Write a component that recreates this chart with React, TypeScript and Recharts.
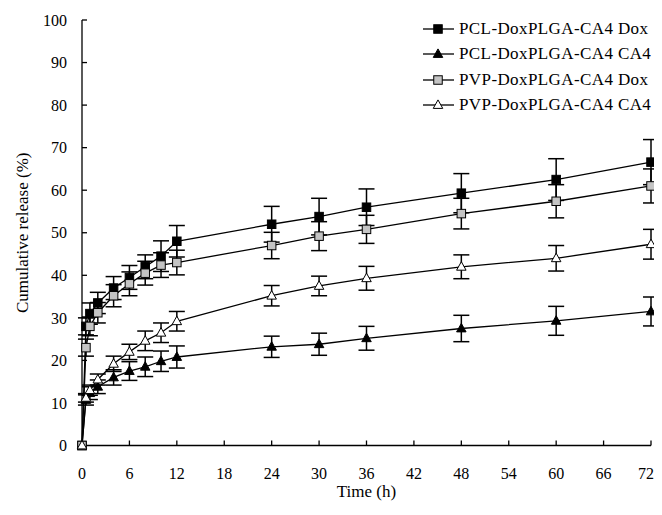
import React from 'react';
import { LineChart, Line, XAxis, YAxis, ErrorBar, Legend, Label } from 'recharts';

const times = [0, 0.5, 1, 2, 4, 6, 8, 10, 12, 24, 30, 36, 48, 60, 72];

const pclDox = [0, 28, 31, 33.5, 37, 39.5, 42, 44.5, 48, 52, 53.8, 56, 59.3, 62.5, 66.6];
const pclDoxErr = [0, 2, 2.5, 2.5, 2.7, 2.8, 2.8, 3.6, 3.7, 4.2, 4.3, 4.3, 4.6, 4.9, 5.3];

const pclCa4 = [0, 10.7, 12.3, 13.8, 16, 17.5, 18.5, 19.8, 20.8, 23.2, 23.8, 25.2, 27.5, 29.3, 31.5];
const pclCa4Err = [0, 1.2, 1.5, 1.6, 1.8, 2.2, 2.3, 2.4, 2.6, 2.5, 2.6, 2.8, 3.1, 3.4, 3.4];

const pvpDox = [0, 23, 28, 31.2, 35.2, 38, 40.5, 42.4, 43, 47, 49.2, 50.8, 54.5, 57.4, 61];
const pvpDoxErr = [0, 2, 2.2, 2.4, 2.6, 2.8, 2.8, 2.9, 2.9, 3.1, 3.4, 3.3, 3.6, 3.9, 4.0];

const pvpCa4 = [0, 11.2, 13, 15.5, 19.2, 22, 24.6, 26.5, 29.2, 35.2, 37.5, 39.3, 42, 44, 47.3];
const pvpCa4Err = [0, 1, 1.2, 1.3, 1.8, 1.8, 2.3, 2.3, 2.3, 2.4, 2.3, 2.8, 2.8, 3.0, 3.5];

const xTicks = [0, 6, 12, 18, 24, 30, 36, 42, 48, 54, 60, 66, 72];
const yTicks = [0, 10, 20, 30, 40, 50, 60, 70, 80, 90, 100];

const seriesNames = [
  'PCL-DoxPLGA-CA4 Dox',
  'PCL-DoxPLGA-CA4 CA4',
  'PVP-DoxPLGA-CA4 Dox',
  'PVP-DoxPLGA-CA4 CA4',
];

const data = times.map((t, i) => ({
  time: t,
  pclDox: pclDox[i],
  pclDoxErr: pclDoxErr[i],
  pclCa4: pclCa4[i],
  pclCa4Err: pclCa4Err[i],
  pvpDox: pvpDox[i],
  pvpDoxErr: pvpDoxErr[i],
  pvpCa4: pvpCa4[i],
  pvpCa4Err: pvpCa4Err[i],
}));

const FONT = '"Liberation Serif", "Times New Roman", serif';

type Shape = 'square' | 'triangle';

const Marker = ({ cx, cy, shape, fill }: { cx: number; cy: number; shape: Shape; fill: string }) => {
  if (cx == null || cy == null) return null;
  if (shape === 'square') {
    const s = 8.5;
    return <rect x={cx - s / 2} y={cy - s / 2} width={s} height={s} fill={fill} stroke="#000" strokeWidth={1} />;
  }
  const w = 9.5;
  const h = 8.5;
  const pts = `${cx},${cy - h * 0.6} ${cx - w / 2},${cy + h * 0.4} ${cx + w / 2},${cy + h * 0.4}`;
  return <polygon points={pts} fill={fill} stroke="#000" strokeWidth={1} />;
};

const makeDot = (shape: Shape, fill: string) => (props: any) => (
  <Marker key={`dot-${shape}-${fill}-${props.index}`} cx={props.cx} cy={props.cy} shape={shape} fill={fill} />
);

const legendItems: { name: string; shape: Shape; fill: string }[] = [
  { name: seriesNames[0], shape: 'square', fill: '#000' },
  { name: seriesNames[1], shape: 'triangle', fill: '#000' },
  { name: seriesNames[2], shape: 'square', fill: '#c4c4c4' },
  { name: seriesNames[3], shape: 'triangle', fill: '#fff' },
];

const renderLegend = () => (
  <div style={{ fontFamily: FONT, fontSize: 17, color: '#000' }}>
    {legendItems.map((it) => (
      <div key={it.name} style={{ display: 'flex', alignItems: 'center', height: 25.5, whiteSpace: 'nowrap' }}>
        <svg width={34} height={14} style={{ marginRight: 3 }}>
          <line x1={1} y1={7} x2={32} y2={7} stroke="#000" strokeWidth={1.3} />
          <Marker cx={16} cy={7} shape={it.shape} fill={it.fill} />
        </svg>
        <span style={{ letterSpacing: 0.4 }}>{it.name}</span>
      </div>
    ))}
  </div>
);

const tickStyle = { fontSize: 16, fill: '#000', fontFamily: FONT };

export default function App() {
  return (
    <LineChart
      width={646}
      height={499}
      data={data}
      margin={{ top: 12, right: 3, left: 0, bottom: 6.5 }}
      style={{ overflow: 'visible' }}
    >
      <XAxis
        dataKey="time"
        type="number"
        domain={[0, 72]}
        ticks={xTicks}
        height={55}
        tickSize={-5}
        tickMargin={27}
        tick={tickStyle}
        axisLine={{ stroke: '#000', strokeWidth: 1.3 }}
        tickLine={{ stroke: '#000', strokeWidth: 1.3 }}
      >
        <Label
          content={({ viewBox }: any) => (
            <text
              x={viewBox.x + viewBox.width / 2}
              y={viewBox.y + viewBox.height - 4}
              textAnchor="middle"
              fontFamily={FONT}
              fontSize={17}
              fill="#000"
            >
              Time (h)
            </text>
          )}
        />
      </XAxis>
      <YAxis
        type="number"
        domain={[0, 100]}
        ticks={yTicks}
        width={74}
        tickSize={-5}
        tickMargin={20}
        tick={tickStyle}
        axisLine={{ stroke: '#000', strokeWidth: 1.3 }}
        tickLine={{ stroke: '#000', strokeWidth: 1.3 }}
      >
        <Label
          content={({ viewBox }: any) => {
            const x = viewBox.x + 14;
            const y = viewBox.y + viewBox.height / 2;
            return (
              <text
                x={x}
                y={y}
                textAnchor="middle"
                dominantBaseline="central"
                transform={`rotate(-90, ${x}, ${y})`}
                fontFamily={FONT}
                fontSize={17}
                fill="#000"
              >
                Cumulative release (%)
              </text>
            );
          }}
        />
      </YAxis>
      <Legend
        layout="vertical"
        align="center"
        verticalAlign="middle"
        wrapperStyle={{ left: 414, top: 8, width: 240 }}
        content={renderLegend}
      />
      <Line
        dataKey="pclDox"
        name={seriesNames[0]}
        stroke="#000"
        strokeWidth={1.3}
        isAnimationActive={false}
        dot={makeDot('square', '#000')}
      >
        <ErrorBar dataKey="pclDoxErr" width={8} stroke="#000" strokeWidth={1.5} direction="y" isAnimationActive={false} />
      </Line>
      <Line
        dataKey="pclCa4"
        name={seriesNames[1]}
        stroke="#000"
        strokeWidth={1.3}
        isAnimationActive={false}
        dot={makeDot('triangle', '#000')}
      >
        <ErrorBar dataKey="pclCa4Err" width={8} stroke="#000" strokeWidth={1.5} direction="y" isAnimationActive={false} />
      </Line>
      <Line
        dataKey="pvpDox"
        name={seriesNames[2]}
        stroke="#000"
        strokeWidth={1.3}
        isAnimationActive={false}
        dot={makeDot('square', '#c4c4c4')}
      >
        <ErrorBar dataKey="pvpDoxErr" width={8} stroke="#000" strokeWidth={1.5} direction="y" isAnimationActive={false} />
      </Line>
      <Line
        dataKey="pvpCa4"
        name={seriesNames[3]}
        stroke="#000"
        strokeWidth={1.3}
        isAnimationActive={false}
        dot={makeDot('triangle', '#fff')}
      >
        <ErrorBar dataKey="pvpCa4Err" width={8} stroke="#000" strokeWidth={1.5} direction="y" isAnimationActive={false} />
      </Line>
    </LineChart>
  );
}
